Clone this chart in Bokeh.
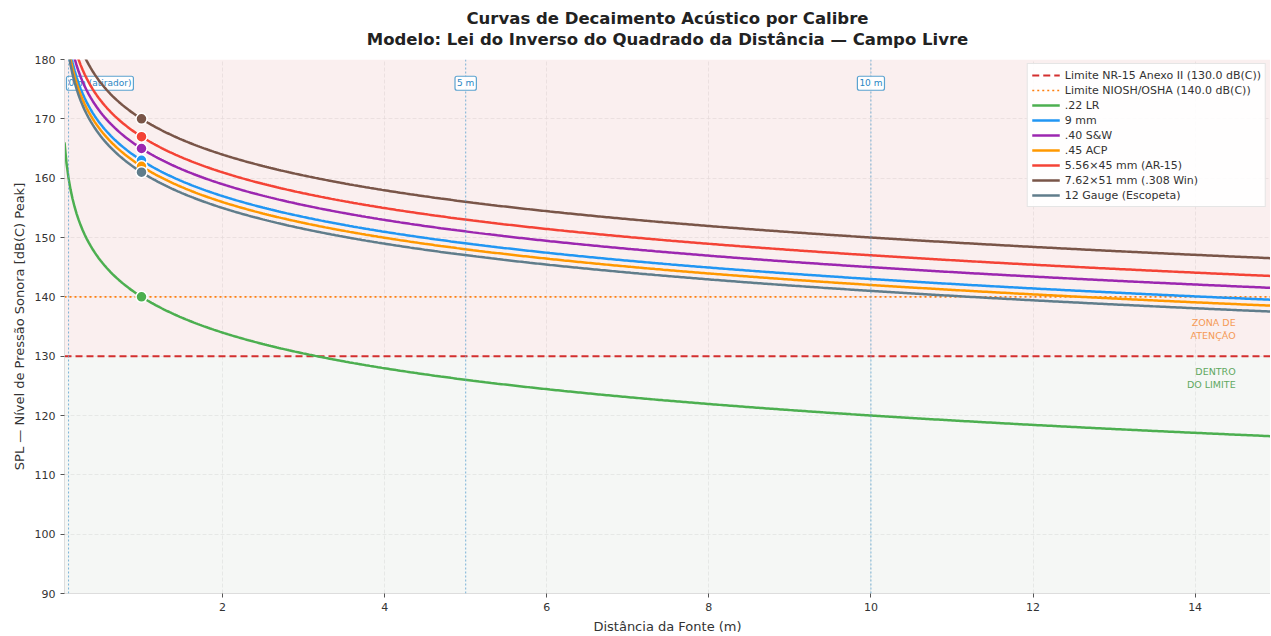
import numpy as np
from bokeh.plotting import figure
from bokeh.models import BoxAnnotation, Span, Label, Legend, LegendItem, Range1d, FixedTicker, Title
from bokeh.embed import file_html
from bokeh.resources import INLINE

# Reference SPL at 1 m (dB(C) peak) per caliber
calibers = [".22 LR", "9 mm", ".40 S&W", ".45 ACP", "5.56×45 mm (AR-15)", "7.62×51 mm (.308 Win)", "12 Gauge (Escopeta)"]
spl_1m = [140, 163, 165, 162, 167, 170, 161]
colors = ["#4caf50", "#2196f3", "#9c27b0", "#ff9800", "#f44336", "#795548", "#607d8b"]
ref_distance = 1.0
nr15_limit = 130.0
niosh_limit = 140.0
marker_distances = [0.1, 5, 10]
marker_labels = ["0 m (atirador)", "5 m", "10 m"]

d = np.linspace(0.05, 15, 600)

FONT = "DejaVu Sans"
p = figure(width=1270, height=636, output_backend="svg", toolbar_location=None,
           x_range=Range1d(0.05, 14.93), y_range=Range1d(90, 180),
           min_border_left=64, min_border_right=0, min_border_top=0, min_border_bottom=42)

p.add_layout(Title(text=" ", text_font_size="8px", standoff=0), "above")
titles = ["Modelo: Lei do Inverso do Quadrado da Distância — Campo Livre",
          "Curvas de Decaimento Acústico por Calibre"]
for txt in titles:
    p.add_layout(Title(text=txt, align="center", text_font=FONT, text_font_size="16.5px",
                       text_font_style="bold", text_color="#222222", standoff=0), "above")
p.add_layout(Title(text=" ", text_font_size="3.5px", standoff=0), "above")

p.background_fill_color = "#ffffff"
p.outline_line_color = None
p.add_layout(BoxAnnotation(bottom=nr15_limit, fill_color="#f2d6d6", fill_alpha=0.4, line_color=None, level="underlay"))
p.add_layout(BoxAnnotation(top=nr15_limit, fill_color="#e6ece6", fill_alpha=0.4, line_color=None, level="underlay"))

p.xgrid.grid_line_color = "#dddddd"
p.ygrid.grid_line_color = "#dddddd"
p.xgrid.grid_line_dash = "4 2"
p.ygrid.grid_line_dash = "4 2"
p.xgrid.grid_line_alpha = 0.7
p.ygrid.grid_line_alpha = 0.7

p.xaxis.ticker = FixedTicker(ticks=[2, 4, 6, 8, 10, 12, 14])
p.yaxis.ticker = FixedTicker(ticks=list(range(90, 181, 10)))
for ax in (p.xaxis[0], p.yaxis[0]):
    ax.axis_line_color = "#dddddd"
    ax.major_tick_line_color = "#555555"
    ax.minor_tick_line_color = None
    ax.major_tick_out = 4
    ax.major_tick_in = 0
    ax.major_label_text_font = FONT
    ax.major_label_text_font_size = "11px"
    ax.major_label_text_color = "#333333"
    ax.axis_label_text_font = FONT
    ax.axis_label_text_font_size = "13px"
    ax.axis_label_text_font_style = "normal"
    ax.axis_label_text_color = "#333333"
p.xaxis.axis_label = "Distância da Fonte (m)"
p.yaxis.axis_label = "SPL — Nível de Pressão Sonora [dB(C) Peak]"

# distance markers
for i, (xd, lab) in enumerate(zip(marker_distances, marker_labels)):
    p.add_layout(Span(location=xd, dimension="height", line_color="#5ba3d0", line_dash="2 2", line_width=1, line_alpha=0.8))
    if i == 0:
        lbl = Label(x=0.05, y=176, text=lab, text_align="left", text_baseline="middle", x_offset=2,
                    level="underlay")
    else:
        lbl = Label(x=xd, y=176, text=lab, text_align="center", text_baseline="middle")
    lbl.text_font = FONT
    lbl.text_font_size = "9px"
    lbl.text_color = "#2a86c4"
    lbl.background_fill_color = "white"
    lbl.background_fill_alpha = 0.9
    lbl.border_line_color = "#5ba3d0"
    lbl.border_line_width = 1.2
    lbl.padding = 2
    lbl.border_radius = 2
    p.add_layout(lbl)

items = []
r1 = p.line([0.05, 14.93], [nr15_limit, nr15_limit], line_color="#d32f2f", line_width=2, line_dash="7 4")
items.append(LegendItem(label=f"Limite NR-15 Anexo II ({nr15_limit:.1f} dB(C))", renderers=[r1]))
r2 = p.line([0.05, 14.93], [niosh_limit, niosh_limit], line_color="#ff7f0e", line_width=1.6, line_dash="2 3")
items.append(LegendItem(label=f"Limite NIOSH/OSHA ({niosh_limit:.1f} dB(C))", renderers=[r2]))

for name, L1, c in zip(calibers, spl_1m, colors):
    spl = L1 - 20 * np.log10(d / ref_distance)
    r = p.line(d, spl, line_color=c, line_width=2.5)
    p.scatter([ref_distance], [L1], size=11, fill_color=c, line_color="white", line_width=1.5)
    items.append(LegendItem(label=name, renderers=[r]))

p.add_layout(Label(x=14.5, y=134.6, text="ZONA DE\nATENÇÃO", text_align="right", text_baseline="middle",
                   text_font=FONT, text_font_size="9.5px", text_color="#f59a55"))
p.add_layout(Label(x=14.5, y=126.3, text="DENTRO\nDO LIMITE", text_align="right", text_baseline="middle",
                   text_font=FONT, text_font_size="9.5px", text_color="#5fa85f"))

legend = Legend(items=items, location="top_right", label_text_font=FONT, label_text_font_size="11px",
                label_text_color="#333333", background_fill_color="white", background_fill_alpha=0.9,
                border_line_color="#cccccc", spacing=1, padding=4, margin=4,
                glyph_height=14, label_height=14, glyph_width=28)
p.add_layout(legend)

open("out.html", "w").write(file_html(p, INLINE))
